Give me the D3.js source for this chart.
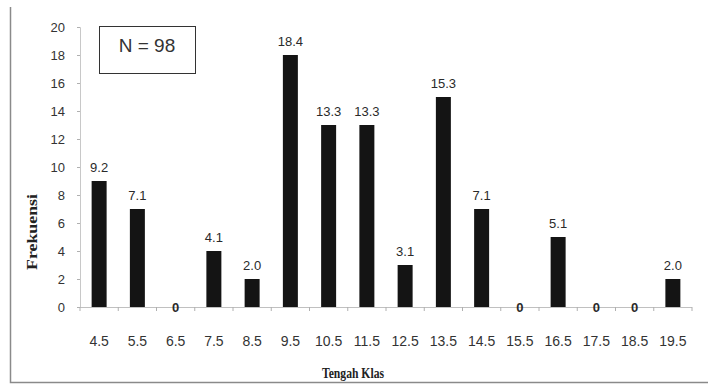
<!DOCTYPE html>
<html>
<head>
<meta charset="utf-8">
<script src="https://cdn.jsdelivr.net/npm/d3@7"></script>
<style>
  html, body { margin: 0; padding: 0; background: #fff; }
  svg { display: block; }
</style>
</head>
<body>
<svg id="chart" width="710" height="385"></svg>
<script>
// Class midpoints (x axis) and frequency per class
const classMids = ["4.5", "5.5", "6.5", "7.5", "8.5", "9.5", "10.5", "11.5",
                   "12.5", "13.5", "14.5", "15.5", "16.5", "17.5", "18.5", "19.5"];
const counts = [9, 7, 0, 4, 2, 18, 13, 13, 3, 15, 7, 0, 5, 0, 0, 2];
const yTicks = [0, 2, 4, 6, 8, 10, 12, 14, 16, 18, 20];
const total = d3.sum(counts);   // 98

const svg = d3.select("#chart");
const plotLeft = 80, plotRight = 692, plotTop = 27, plotBottom = 307;

const x = d3.scaleBand()
  .domain(classMids)
  .range([plotLeft, plotRight])
  .paddingInner(0.608)
  .paddingOuter(0.304);

const y = d3.scaleLinear().domain([0, 20]).range([plotBottom, plotTop]);

// outer frame (left and bottom edges)
svg.append("path")
  .attr("d", "M10.5,7 V382.5 H708")
  .attr("fill", "none")
  .attr("stroke", "#8a8a8a")
  .attr("stroke-width", 1.5);

// y axis
const yAxis = svg.append("g")
  .attr("transform", `translate(${plotLeft},0)`)
  .call(d3.axisLeft(y).tickValues(yTicks).tickSize(3).tickPadding(12));
yAxis.select(".domain").attr("stroke", "#c8c8c8");
yAxis.selectAll(".tick line").attr("stroke", "#b0b0b0");
yAxis.selectAll(".tick text")
  .attr("font-family", "Liberation Sans, Arial, sans-serif")
  .attr("font-size", 13)
  .attr("fill", "#333");

// x axis: line with ticks at the class boundaries
const step = x.step();
const boundaries = d3.range(classMids.length + 1).map(i => plotLeft + i * step);
svg.append("line")
  .attr("x1", plotLeft).attr("x2", plotRight)
  .attr("y1", plotBottom + 0.5).attr("y2", plotBottom + 0.5)
  .attr("stroke", "#c0c0c0");
svg.append("g").selectAll("line")
  .data(boundaries)
  .join("line")
  .attr("x1", d => d).attr("x2", d => d)
  .attr("y1", plotBottom).attr("y2", plotBottom + 4)
  .attr("stroke", "#b0b0b0");

svg.append("g").selectAll("text")
  .data(classMids)
  .join("text")
  .attr("x", d => x(d) + x.bandwidth() / 2)
  .attr("y", 346)
  .attr("text-anchor", "middle")
  .attr("font-family", "Liberation Sans, Arial, sans-serif")
  .attr("font-size", 14)
  .attr("fill", "#333")
  .text(d => d);

// bars
svg.append("g").selectAll("rect")
  .data(counts)
  .join("rect")
  .attr("x", (d, i) => x(classMids[i]))
  .attr("y", d => y(d))
  .attr("width", x.bandwidth())
  .attr("height", d => y(0) - y(d))
  .attr("fill", "#141414");

// percentage labels over each bar
const pct = d3.format(".1f");
svg.append("g").selectAll("text")
  .data(counts)
  .join("text")
  .attr("x", (d, i) => x(classMids[i]) + x.bandwidth() / 2)
  .attr("y", d => d > 0 ? y(d) - 9 : y(0) + 5)
  .attr("text-anchor", "middle")
  .attr("font-family", "Liberation Sans, Arial, sans-serif")
  .attr("font-size", 13)
  .attr("font-weight", d => d > 0 ? "normal" : "bold")
  .attr("fill", "#2a2a2a")
  .text(d => d > 0 ? pct(d / total * 100) : "0");

// sample size box
svg.append("rect")
  .attr("x", 99.5).attr("y", 26.5)
  .attr("width", 96).attr("height", 47)
  .attr("fill", "#fff")
  .attr("stroke", "#333")
  .attr("stroke-width", 1);
svg.append("text")
  .attr("x", 147).attr("y", 52)
  .attr("text-anchor", "middle")
  .attr("font-family", "Liberation Sans, Arial, sans-serif")
  .attr("font-size", 19)
  .attr("fill", "#333")
  .text(`N = ${total}`);

// axis titles
svg.append("text")
  .attr("x", 353).attr("y", 378)
  .attr("text-anchor", "middle")
  .attr("font-family", "Liberation Serif, Times New Roman, serif")
  .attr("font-weight", "bold")
  .attr("font-size", 15)
  .attr("textLength", 62)
  .attr("lengthAdjust", "spacingAndGlyphs")
  .attr("fill", "#222")
  .text("Tengah Klas");

svg.append("text")
  .attr("transform", "translate(37,232) rotate(-90)")
  .attr("text-anchor", "middle")
  .attr("font-family", "Liberation Serif, Times New Roman, serif")
  .attr("font-weight", "bold")
  .attr("font-size", 14)
  .attr("textLength", 76)
  .attr("lengthAdjust", "spacingAndGlyphs")
  .attr("fill", "#222")
  .text("Frekuensi");
</script>
</body>
</html>
